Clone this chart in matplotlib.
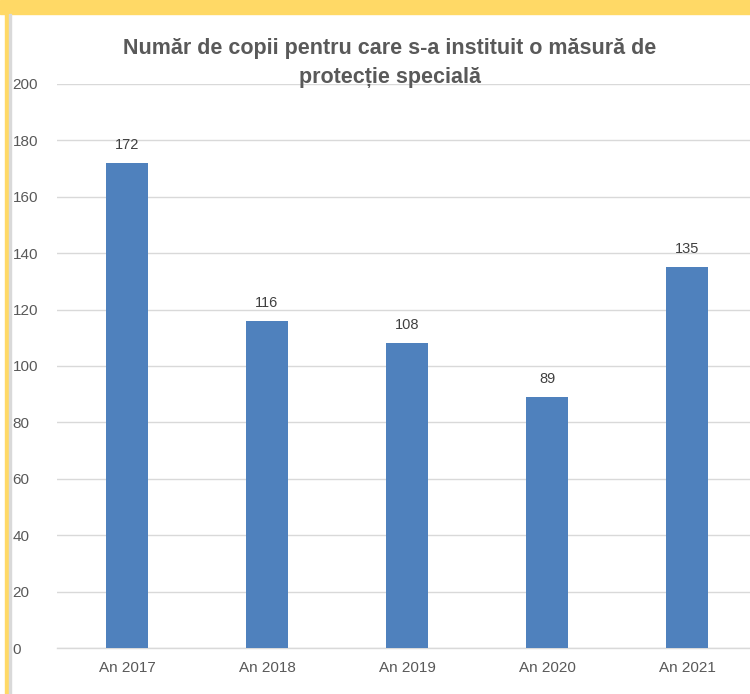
import matplotlib as mpl
from matplotlib import pyplot as plt
import numpy as np

# data
years = ['An 2017', 'An 2018', 'An 2019', 'An 2020', 'An 2021']
counts = [172, 116, 108, 89, 135]
title = 'Număr de copii pentru care s-a instituit o măsură de\nprotecție specială'

mpl.rcParams['font.family'] = ['Liberation Sans Narrow', 'Liberation Sans', 'DejaVu Sans']

fig = plt.figure(figsize=(7.5, 6.94), dpi=100)
fig.patch.set_facecolor('white')

# yellow frame from the source document
fig.add_artist(plt.Rectangle((0, 1 - 14/694), 1, 14/694, transform=fig.transFigure,
                             color='#FFD966', zorder=0))
fig.add_artist(plt.Rectangle((5/750, 0), 4/750, 1, transform=fig.transFigure,
                             color='#FFD966', zorder=0))
fig.add_artist(plt.Rectangle((9/750, 0), 1.5/750, 1 - 14/694, transform=fig.transFigure,
                             color='#D9D9D9', zorder=0))

ax1 = fig.add_axes([57/750, 1 - 648/694, 1 - 57/750, (648 - 84)/694])
x = np.arange(len(years))
bars = ax1.bar(x, counts, width=0.3, color='#4F81BD', zorder=3)

for xi, v in zip(x, counts):
    ax1.text(xi, v + 4, str(v), ha='center', va='bottom', fontsize=10.5, color='#404040')

ax1.set_xlim(-0.5, (750 - 127) / 140)
ax1.set_ylim(0, 200)
ax1.set_yticks(np.arange(0, 201, 20))
ax1.set_xticks(x)
ax1.set_xticklabels(years)
ax1.tick_params(axis='both', length=0, colors='#595959', labelsize=11)
ax1.tick_params(axis='x', pad=9)
for lab in ax1.get_yticklabels():
    lab.set_horizontalalignment('left')
ax1.yaxis.set_tick_params(pad=32)
ax1.grid(True, axis='y', color='#D9D9D9', linewidth=1, zorder=0)
for s in ['top', 'right', 'left']:
    ax1.spines[s].set_visible(False)
ax1.spines['bottom'].set_color('#D9D9D9')
ax1.spines['bottom'].set_linewidth(1)

fig.text(390/750, 1 - 63/694, title, ha='center', va='center', fontsize=15.5,
         fontweight='bold', color='#595959', linespacing=1.5)

fig.savefig('out.png', dpi=100)
